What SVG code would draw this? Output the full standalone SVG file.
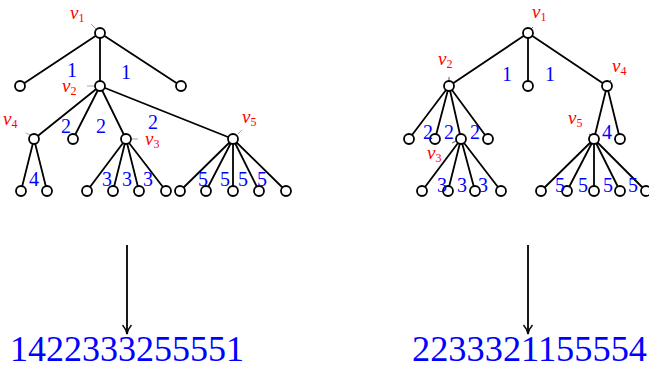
<svg xmlns="http://www.w3.org/2000/svg" width="649" height="368" viewBox="0 0 649 368">
<style>
.e{stroke:#000;stroke-width:1.8;fill:none}
.n{fill:#fff;stroke:#000;stroke-width:1.8}
.p{stroke:#999;stroke-width:0.9}
.pd{stroke:#444;stroke-width:0.9}
.v{font-family:"Liberation Serif",serif;font-style:italic;font-size:19px;fill:#f00}
.v tspan{font-size:12px;font-style:normal}
.b{font-family:"Liberation Serif",serif;font-size:20px;fill:#00f}
.s{font-family:"Liberation Serif",serif;font-size:36px;fill:#00f}
.a{stroke:#000;stroke-width:1.8;fill:none}
</style>
<defs>
<marker id="ah" markerWidth="12" markerHeight="10" refX="10" refY="5" orient="auto" markerUnits="userSpaceOnUse">
<path d="M1,0.5 Q5,4 10,5 Q5,6 1,9.5" fill="none" stroke="#000" stroke-width="1.5"/>
</marker>
</defs>
<g id="connectors">
<path class="e" d="M100,33L20,86M100,33L100,86M100,33L181,86M100,86L34,139M100,86L73,139M100,86L126,139M100,86L233,139M34,139L21,191M34,139L47,191M126,139L87,191M126,139L113,191M126,139L139,191M126,139L166,191M233,139L180,191M233,139L206,191M233,139L233,191M233,139L259,191M233,139L286,191"/>
<path class="e" d="M528,33L449,86M528,33L528,86M528,33L607,86M449,86L409,139M449,86L435,139M449,86L461,139M449,86L488,139M461,139L422,191M461,139L448,191M461,139L475,191M461,139L501,191M607,86L594,139M607,86L620,139M594,139L541,191M594,139L567,191M594,139L594,191M594,139L620,191M594,139L646,191"/>
<path class="a" d="M127,245L127,334" marker-end="url(#ah)"/>
<path class="a" d="M528,245L528,334" marker-end="url(#ah)"/>
<path class="p" d="M91,24L96,29M87,86L95,86M26,133L30,135M131,139L138,139M238,134L242,130"/>
<path class="pd" d="M449,77L449,81M533,27L531,29M611,80L609,82M452,143L456,141M589,134L591,135"/>
</g>
<g id="tree1">
<circle class="n" cx="100" cy="33" r="5"/><circle class="n" cx="20" cy="86" r="5"/><circle class="n" cx="100" cy="86" r="5"/><circle class="n" cx="181" cy="86" r="5"/>
<circle class="n" cx="34" cy="139" r="5"/><circle class="n" cx="73" cy="139" r="5"/><circle class="n" cx="126" cy="139" r="5"/><circle class="n" cx="233" cy="139" r="5"/>
<circle class="n" cx="21" cy="191" r="5"/><circle class="n" cx="47" cy="191" r="5"/><circle class="n" cx="87" cy="191" r="5"/><circle class="n" cx="113" cy="191" r="5"/><circle class="n" cx="139" cy="191" r="5"/><circle class="n" cx="166" cy="191" r="5"/>
<circle class="n" cx="180" cy="191" r="5"/><circle class="n" cx="206" cy="191" r="5"/><circle class="n" cx="233" cy="191" r="5"/><circle class="n" cx="259" cy="191" r="5"/><circle class="n" cx="286" cy="191" r="5"/>
</g>
<g id="labels1">
<text class="v" x="70" y="19">v<tspan dy="3">1</tspan></text>
<text class="v" x="62" y="92">v<tspan dy="3">2</tspan></text>
<text class="v" x="3" y="125">v<tspan dy="3">4</tspan></text>
<text class="v" x="145" y="145">v<tspan dy="3">3</tspan></text>
<text class="v" x="242" y="123">v<tspan dy="3">5</tspan></text>
<text class="b" x="67" y="77">1</text><text class="b" x="121" y="79">1</text>
<text class="b" x="61" y="133">2</text><text class="b" x="96" y="133">2</text><text class="b" x="148" y="129">2</text>
<text class="b" x="29" y="186">4</text>
<text class="b" x="102" y="186">3</text><text class="b" x="122" y="186">3</text><text class="b" x="143" y="186">3</text>
<text class="b" x="198" y="186">5</text><text class="b" x="220" y="186">5</text><text class="b" x="238" y="186">5</text><text class="b" x="257" y="186">5</text>
</g>
<g id="tree2">
<circle class="n" cx="528" cy="33" r="5"/><circle class="n" cx="449" cy="86" r="5"/><circle class="n" cx="528" cy="86" r="5"/><circle class="n" cx="607" cy="86" r="5"/>
<circle class="n" cx="409" cy="139" r="5"/><circle class="n" cx="435" cy="139" r="5"/><circle class="n" cx="461" cy="139" r="5"/><circle class="n" cx="488" cy="139" r="5"/>
<circle class="n" cx="594" cy="139" r="5"/><circle class="n" cx="620" cy="139" r="5"/>
<circle class="n" cx="422" cy="191" r="5"/><circle class="n" cx="448" cy="191" r="5"/><circle class="n" cx="475" cy="191" r="5"/><circle class="n" cx="501" cy="191" r="5"/>
<circle class="n" cx="541" cy="191" r="5"/><circle class="n" cx="567" cy="191" r="5"/><circle class="n" cx="594" cy="191" r="5"/><circle class="n" cx="620" cy="191" r="5"/><circle class="n" cx="646" cy="191" r="5"/>
</g>
<g id="labels2">
<text class="v" x="532" y="18">v<tspan dy="3">1</tspan></text>
<text class="v" x="438" y="65">v<tspan dy="3">2</tspan></text>
<text class="v" x="612" y="72">v<tspan dy="3">4</tspan></text>
<text class="v" x="427" y="159">v<tspan dy="3">3</tspan></text>
<text class="v" x="568" y="124">v<tspan dy="3">5</tspan></text>
<text class="b" x="502" y="81">1</text><text class="b" x="545" y="81">1</text>
<text class="b" x="423" y="139">2</text><text class="b" x="444" y="139">2</text><text class="b" x="470" y="139">2</text>
<text class="b" x="602" y="139">4</text>
<text class="b" x="437" y="192">3</text><text class="b" x="457" y="192">3</text><text class="b" x="478" y="192">3</text>
<text class="b" x="555" y="192">5</text><text class="b" x="578" y="192">5</text><text class="b" x="603" y="192">5</text><text class="b" x="628" y="192">5</text>
</g>
<g id="sequences">
<text class="s" x="10" y="361" textLength="234" lengthAdjust="spacingAndGlyphs">1422333255551</text>
<text class="s" x="412" y="361" textLength="235" lengthAdjust="spacingAndGlyphs">2233321155554</text>
</g>
</svg>
